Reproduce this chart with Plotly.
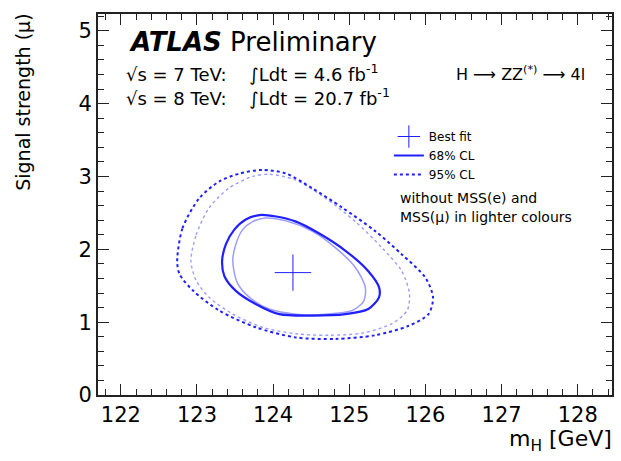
import plotly.graph_objects as go

# ---- data ----
best_fit_mh = [124.26]
best_fit_mu = [1.68]

cl68_mh = [123.33, 123.38, 123.49, 123.64, 123.82, 124.04, 124.30, 124.60, 124.95, 125.25,
           125.39, 125.39, 125.25, 124.95, 124.47, 124.08, 123.77, 123.51, 123.36, 123.33]
cl68_mu = [1.84, 2.07, 2.27, 2.41, 2.47, 2.45, 2.38, 2.22, 1.98, 1.70,
           1.48, 1.34, 1.18, 1.11, 1.09, 1.11, 1.25, 1.43, 1.63, 1.84]

cl95_mh = [122.74, 122.81, 123.03, 123.29, 123.56, 123.86, 124.17, 124.51, 124.91, 125.34, 125.69,
           126.00, 126.10, 126.04, 125.78, 125.34, 124.82, 124.30, 123.77, 123.29, 122.95, 122.77, 122.74]
cl95_mu = [1.84, 2.29, 2.70, 2.93, 3.04, 3.09, 3.04, 2.84, 2.57, 2.25, 1.93,
           1.61, 1.34, 1.11, 0.95, 0.82, 0.77, 0.79, 0.93, 1.16, 1.43, 1.66, 1.84]

light68_mh = [123.47, 123.51, 123.60, 123.73, 123.90, 124.17, 124.51, 124.82, 125.08, 125.21,
              125.19, 125.04, 124.69, 124.30, 123.95, 123.69, 123.53, 123.47]
light68_mu = [1.84, 2.07, 2.27, 2.38, 2.43, 2.39, 2.25, 2.02, 1.75, 1.48,
              1.29, 1.16, 1.11, 1.11, 1.18, 1.34, 1.54, 1.84]

light95_mh = [122.92, 122.99, 123.16, 123.42, 123.73, 123.95, 124.30, 124.69, 125.08, 125.43, 125.69,
              125.79, 125.76, 125.56, 125.17, 124.73, 124.30, 123.86, 123.47, 123.16, 122.99, 122.92]
light95_mu = [1.84, 2.20, 2.57, 2.84, 3.00, 3.03, 2.95, 2.70, 2.38, 2.02, 1.70,
              1.39, 1.16, 0.98, 0.85, 0.82, 0.84, 0.93, 1.11, 1.34, 1.57, 1.84]

x_ticks = [122, 123, 124, 125, 126, 127, 128]
y_ticks = [0, 1, 2, 3, 4, 5]

DARK = "#1f1fff"
LIGHT = "#9c9cff"
FONT = "DejaVu Sans, Liberation Sans, sans-serif"
NB = "\u00a0"

fig = go.Figure()

fig.add_trace(go.Scatter(x=light95_mh, y=light95_mu, mode="lines", showlegend=False,
                         line=dict(color=LIGHT, width=1.4, dash="dot", shape="spline", smoothing=0.8)))
fig.add_trace(go.Scatter(x=light68_mh, y=light68_mu, mode="lines", showlegend=False,
                         line=dict(color=LIGHT, width=1.5, shape="spline", smoothing=0.8)))
fig.add_trace(go.Scatter(x=best_fit_mh, y=best_fit_mu, mode="markers", name="Best fit",
                         marker=dict(symbol="cross-thin", size=26,
                                     line=dict(color=DARK, width=1))))
fig.add_trace(go.Scatter(x=cl68_mh, y=cl68_mu, mode="lines", name="68% CL",
                         line=dict(color=DARK, width=2.2, shape="spline", smoothing=0.8)))
fig.add_trace(go.Scatter(x=cl95_mh, y=cl95_mu, mode="lines", name="95% CL",
                         line=dict(color=DARK, width=2, dash="dot", shape="spline", smoothing=0.8)))

axis_common = dict(
    showgrid=False, zeroline=False, showline=True, linecolor="#222", linewidth=2,
    mirror="allticks", ticks="inside", ticklen=11, tickwidth=1.2, tickcolor="#222",
    tickfont=dict(family=FONT, size=21, color="black"),
)

fig.update_xaxes(range=[121.7, 128.45], tickvals=x_ticks,
                 minor=dict(dtick=0.2, ticks="inside", ticklen=6, tickcolor="#222", tickwidth=1),
                 **axis_common)
fig.update_yaxes(range=[0, 5.23], tickvals=y_ticks,
                 minor=dict(dtick=0.2, ticks="inside", ticklen=6, tickcolor="#222", tickwidth=1),
                 **axis_common)

L, R, T, B = 98, 7, 14, 66
W, H = 621, 461
pw, ph = W - L - R, H - T - B

def px(xp):
    return (xp - L) / pw

def py(yp):
    return (H - B - yp) / ph

lumi7 = f"√s = 7 TeV:{NB*4}∫Ldt = 4.6 fb<sup>-1</sup>"
lumi8 = f"√s = 8 TeV:{NB*4}∫Ldt = 20.7 fb<sup>-1</sup>"

ann = [
    dict(text="<b><i>ATLAS</i></b>" + NB + "Preliminary", x=px(127), y=py(42), xanchor="left", yanchor="middle",
         font=dict(size=26, family=FONT, color="black")),
    dict(text=lumi7, x=px(124), y=py(73), xanchor="left", yanchor="middle",
         font=dict(size=18, family=FONT, color="black")),
    dict(text=lumi8, x=px(124), y=py(97), xanchor="left", yanchor="middle",
         font=dict(size=18, family=FONT, color="black")),
    dict(text="H ⟶ ZZ<sup>(*)</sup> ⟶ 4l", x=px(455), y=py(73), xanchor="left", yanchor="middle",
         font=dict(size=16, family=FONT, color="black")),
    dict(text="without MSS(e) and", x=px(399), y=py(198), xanchor="left", yanchor="middle",
         font=dict(size=14, family=FONT, color="black")),
    dict(text="MSS(μ) in lighter colours", x=px(399), y=py(217), xanchor="left", yanchor="middle",
         font=dict(size=14, family=FONT, color="black")),
    dict(text="Signal strength (μ)", x=px(22), y=py(12), xanchor="center", yanchor="top",
         textangle=-90, font=dict(size=19, family=FONT, color="black")),
    dict(text="m<sub>H</sub> [GeV]", x=px(616), y=py(440), xanchor="right", yanchor="middle",
         font=dict(size=22, family=FONT, color="black")),
]
for a in ann:
    a.update(xref="paper", yref="paper", showarrow=False)

fig.update_layout(
    width=W, height=H,
    margin=dict(l=L, r=R, t=T, b=B),
    paper_bgcolor="white", plot_bgcolor="white",
    annotations=ann,
    legend=dict(x=px(390), y=py(122), xanchor="left", yanchor="top",
                font=dict(size=12, family=FONT, color="black"),
                bgcolor="rgba(0,0,0,0)", itemwidth=30, tracegroupgap=0),
    font=dict(family=FONT),
)

fig.write_html("out.html", config={"displayModeBar": False},
               post_script="document.body.style.margin='0';document.body.style.overflow='hidden';")
